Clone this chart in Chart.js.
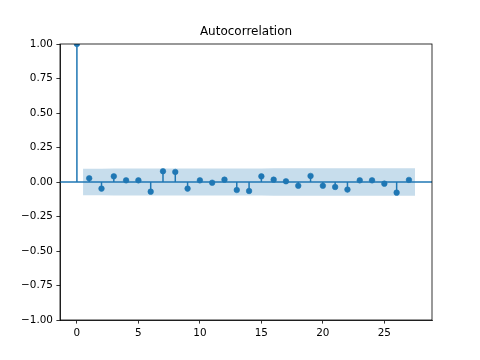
<!DOCTYPE html>
<html>
<head>
<meta charset="utf-8">
<script src="https://cdn.jsdelivr.net/npm/chart.js@4/dist/chart.umd.min.js"></script>
<style>
  body { margin: 0; background: #fff; }
  canvas { display: block; }
</style>
</head>
<body>
<canvas id="acf" width="480" height="360"></canvas>
<script>
(() => {
  'use strict'

  const lags = [0, 1, 2, 3, 4, 5, 6, 7, 8, 9, 10, 11, 12, 13, 14, 15, 16, 17, 18, 19, 20, 21, 22, 23, 24, 25, 26, 27]
  const acfValues = [1.0, 0.027, -0.048, 0.041, 0.012, 0.012, -0.070, 0.078, 0.073, -0.048, 0.012, -0.005, 0.017, -0.058,
    -0.065, 0.041, 0.017, 0.005, -0.027, 0.044, -0.027, -0.036, -0.055, 0.012, 0.012, -0.012, -0.077, 0.015]
  // half width of the confidence band for lags 1..27
  const bandHalf = [0.096, 0.096, 0.097, 0.097, 0.097, 0.097, 0.097, 0.098, 0.098, 0.098, 0.098, 0.098, 0.098, 0.098,
    0.098, 0.099, 0.099, 0.099, 0.099, 0.099, 0.099, 0.099, 0.099, 0.100, 0.100, 0.100, 0.100]
  const xTicks = [0, 5, 10, 15, 20, 25]
  const yTicks = [-1, -0.75, -0.5, -0.25, 0, 0.25, 0.5, 0.75, 1]
  const xRange = [-1.375, 28.875]
  const yRange = [-1, 1]

  const blue = '#1f77b4'
  const font = { family: '"DejaVu Sans", sans-serif', size: 10.4 }

  const stems = []
  lags.forEach((lag, i) => {
    stems.push({ x: lag, y: 0 }, { x: lag, y: acfValues[i] }, { x: lag, y: null })
  })
  const points = lags.map((lag, i) => ({ x: lag, y: acfValues[i] }))
  const bandLags = lags.slice(1).map((lag, i, arr) => i === 0 ? lag - 0.5 : (i === arr.length - 1 ? lag + 0.5 : lag))
  const bandUpper = bandLags.map((x, i) => ({ x: x, y: bandHalf[i] }))
  const bandLower = bandLags.map((x, i) => ({ x: x, y: -bandHalf[i] }))

  const frame = {
    id: 'frame',
    afterDraw(chart) {
      const { ctx, chartArea: a } = chart
      ctx.save()
      ctx.strokeStyle = '#000'
      ctx.lineWidth = 0.8
      ctx.strokeRect(a.left, a.top, a.right - a.left, a.bottom - a.top)
      ctx.restore()
    }
  }

  const fmtY = v => (v < 0 ? '\u2212' : '') + Math.abs(v).toFixed(2)

  new Chart(document.getElementById('acf'), {
    type: 'line',
    data: {
      datasets: [
        {
          data: bandUpper,
          borderWidth: 0,
          pointRadius: 0,
          backgroundColor: 'rgba(31, 119, 180, 0.25)',
          fill: '+1',
          order: 0
        },
        {
          data: bandLower,
          borderWidth: 0,
          pointRadius: 0,
          fill: false,
          order: 0
        },
        {
          data: [{ x: xRange[0], y: 0 }, { x: xRange[1], y: 0 }],
          borderColor: blue,
          borderWidth: 1.5,
          pointRadius: 0,
          fill: false,
          order: 1
        },
        {
          data: points,
          showLine: false,
          pointRadius: 2.8,
          pointBorderWidth: 0.6,
          pointBackgroundColor: blue,
          pointBorderColor: blue,
          order: 2
        },
        {
          data: stems,
          borderColor: blue,
          borderWidth: 1.5,
          pointRadius: 0,
          spanGaps: false,
          fill: false,
          order: 3
        }
      ]
    },
    options: {
      responsive: false,
      animation: false,
      layout: { padding: { top: 0, left: 0, right: 48, bottom: 0 } },
      plugins: {
        legend: { display: false },
        tooltip: { enabled: false },
        title: {
          display: true,
          text: 'Autocorrelation',
          fullSize: false,
          color: '#000',
          font: { family: '"DejaVu Sans", sans-serif', size: 12, weight: 'normal', lineHeight: 1.2 },
          padding: { top: 25, bottom: 4.6 }
        }
      },
      scales: {
        x: {
          type: 'linear',
          min: xRange[0],
          max: xRange[1],
          afterFit: s => { s.height = 40 },
          afterBuildTicks: s => { s.ticks = xTicks.map(v => ({ value: v })) },
          grid: { display: true, drawOnChartArea: false, drawTicks: true, tickLength: 3.6, color: '#000', lineWidth: 0.8 },
          border: { display: true, color: '#000', width: 0.8 },
          ticks: { color: '#000', font: font, padding: 3.5, maxRotation: 0, callback: v => String(v) }
        },
        y: {
          type: 'linear',
          min: yRange[0],
          max: yRange[1],
          afterFit: s => { s.width = 60 },
          afterBuildTicks: s => { s.ticks = yTicks.map(v => ({ value: v })) },
          grid: { display: true, drawOnChartArea: false, drawTicks: true, tickLength: 3.6, color: '#000', lineWidth: 0.8 },
          border: { display: true, color: '#000', width: 0.8 },
          ticks: { color: '#000', font: font, padding: 3.5, callback: v => fmtY(v) }
        }
      }
    },
    plugins: [frame]
  })
})()
</script>
</body>
</html>
